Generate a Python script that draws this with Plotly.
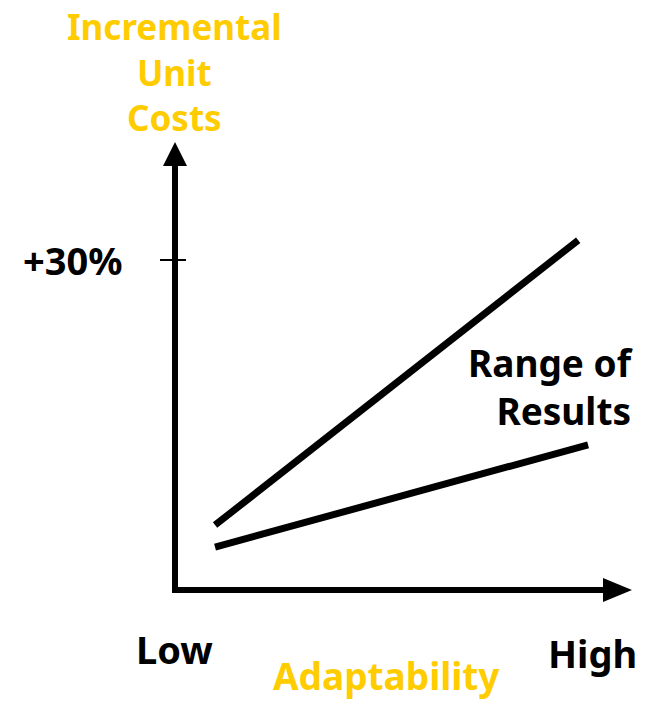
import plotly.graph_objects as go

# ---- data ----
adaptability = [8.9, 89.6]          # Low .. High (arbitrary units)
upper_cost = [5.9, 31.8]            # % incremental unit cost, upper bound
lower_adapt = [8.9, 91.8]
lower_cost = [3.9, 13.2]            # lower bound
tick_vals = [30]
tick_text = ["+30%"]

W, H = 652, 703
OX, OY = 175, 590      # pixel position of origin
SX, SY = 4.5, 11.0     # pixels per unit

def dx(px):
    return (px - OX) / SX

def dy(py):
    return (OY - py) / SY

YELLOW = "#FFCC00"
FONT = "Noto Sans"
FS = 38

fig = go.Figure()
fig.add_trace(go.Scatter(x=adaptability, y=upper_cost, mode="lines",
                         line=dict(color="black", width=7), hoverinfo="skip"))
fig.add_trace(go.Scatter(x=lower_adapt, y=lower_cost, mode="lines",
                         line=dict(color="black", width=7), hoverinfo="skip"))

shapes = []
shapes.append(dict(type="line", x0=0, x1=0, y0=dy(593), y1=dy(160),
                   line=dict(color="black", width=6)))
shapes.append(dict(type="line", x0=dx(172), x1=dx(610), y0=0, y1=0,
                   line=dict(color="black", width=6)))
shapes.append(dict(type="path", xsizemode="pixel", ysizemode="pixel",
                   xanchor=0, yanchor=dy(142),
                   path="M -12 -24 L 12 -24 L 0 0 Z",
                   fillcolor="black", line=dict(width=0)))
shapes.append(dict(type="path", xsizemode="pixel", ysizemode="pixel",
                   xanchor=dx(632), yanchor=0,
                   path="M -29 -12 L -29 12 L 0 0 Z",
                   fillcolor="black", line=dict(width=0)))
for tv in tick_vals:
    shapes.append(dict(type="line", x0=dx(160), x1=dx(186), y0=tv, y1=tv,
                       line=dict(color="black", width=2)))

ann = []
def text(t, px, py, color="black", size=FS, xanchor="center", align="center"):
    ann.append(dict(text=t, x=dx(px), y=dy(py), xref="x", yref="y",
                    showarrow=False, xanchor=xanchor, yanchor="middle", align=align,
                    font=dict(family=FONT, size=size, color=color, weight="bold")))

text("Incremental<br>Unit<br>Costs", 174, 72, YELLOW, size=35)
for tv, tt in zip(tick_vals, tick_text):
    ann.append(dict(text=tt, x=dx(124), y=tv, xref="x", yref="y",
                    showarrow=False, xanchor="right", yanchor="middle",
                    font=dict(family=FONT, size=FS, color="black", weight="bold")))
text("Range of<br>Results", 635, 386, xanchor="right", align="right", size=37)
text("Low", 174, 649)
text("High", 592, 653)
text("Adaptability", 386, 675, YELLOW, size=37)

fig.update_layout(
    width=W, height=H, margin=dict(l=0, r=0, t=0, b=0),
    paper_bgcolor="white", plot_bgcolor="white", showlegend=False,
    xaxis=dict(range=[dx(0), dx(W)], visible=False, fixedrange=True),
    yaxis=dict(range=[dy(H), dy(0)], visible=False, fixedrange=True),
    shapes=shapes, annotations=ann,
)
fig.write_html("out.html")
